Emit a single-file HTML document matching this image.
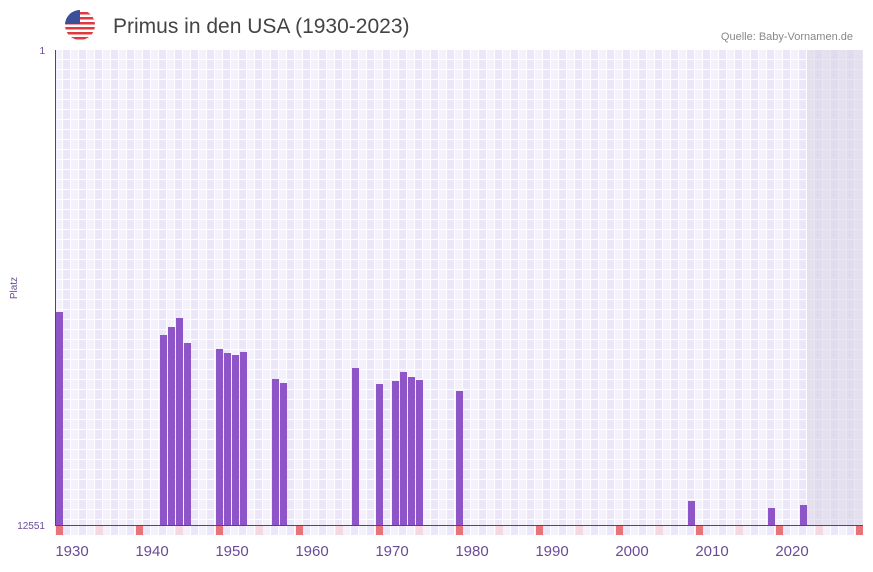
<!DOCTYPE html><html><head><style>body{margin:0;background:#fff;font-family:"Liberation Sans",sans-serif}</style></head><body>
<svg width="873" height="567" xmlns="http://www.w3.org/2000/svg">
<defs>
<pattern id="g" x="55" y="50" width="16" height="10" patternUnits="userSpaceOnUse">
<rect width="8" height="10" fill="#f4f1fc"/><rect x="8" width="8" height="10" fill="#ece7f8"/>
<rect x="7" width="1" height="10" fill="#fff"/><rect x="15" width="1" height="10" fill="#fff"/><rect y="9" width="16" height="1" fill="#fff"/>
</pattern>
<pattern id="r" x="55" y="526" width="16" height="10" patternUnits="userSpaceOnUse">
<rect width="8" height="10" fill="#f4f1fc"/><rect x="8" width="8" height="10" fill="#ece7f8"/>
<rect x="7" width="1" height="10" fill="#fff"/><rect x="15" width="1" height="10" fill="#fff"/>
</pattern>
</defs>
<rect x="55" y="50" width="808" height="475" fill="url(#g)"/>
<rect x="807" y="50" width="56" height="475" fill="#d8d2e6" opacity="0.55"/>
<rect x="55" y="526" width="808" height="9" fill="url(#r)"/>
<g fill="#e8737a"><rect x="56" y="526" width="7" height="9"/><rect x="136" y="526" width="7" height="9"/><rect x="216" y="526" width="7" height="9"/><rect x="296" y="526" width="7" height="9"/><rect x="376" y="526" width="7" height="9"/><rect x="456" y="526" width="7" height="9"/><rect x="536" y="526" width="7" height="9"/><rect x="616" y="526" width="7" height="9"/><rect x="696" y="526" width="7" height="9"/><rect x="776" y="526" width="7" height="9"/><rect x="856" y="526" width="7" height="9"/></g>
<g fill="#f5d8e0"><rect x="96" y="526" width="7" height="9"/><rect x="176" y="526" width="7" height="9"/><rect x="256" y="526" width="7" height="9"/><rect x="336" y="526" width="7" height="9"/><rect x="416" y="526" width="7" height="9"/><rect x="496" y="526" width="7" height="9"/><rect x="576" y="526" width="7" height="9"/><rect x="656" y="526" width="7" height="9"/><rect x="736" y="526" width="7" height="9"/><rect x="816" y="526" width="7" height="9"/></g>
<g fill="#8e55c8">
<rect x="55" y="312" width="8" height="213"/>
<rect x="160" y="335" width="7" height="190"/><rect x="168" y="327" width="7" height="198"/><rect x="176" y="318" width="7" height="207"/><rect x="184" y="343" width="7" height="182"/>
<rect x="216" y="349" width="7" height="176"/><rect x="224" y="353" width="7" height="172"/><rect x="232" y="355" width="7" height="170"/><rect x="240" y="352" width="7" height="173"/>
<rect x="272" y="379" width="7" height="146"/><rect x="280" y="383" width="7" height="142"/>
<rect x="352" y="368" width="7" height="157"/><rect x="376" y="384" width="7" height="141"/>
<rect x="392" y="381" width="7" height="144"/><rect x="400" y="372" width="7" height="153"/><rect x="408" y="377" width="7" height="148"/><rect x="416" y="380" width="7" height="145"/>
<rect x="456" y="391" width="7" height="134"/>
<rect x="688" y="501" width="7" height="24"/><rect x="768" y="508" width="7" height="17"/><rect x="800" y="505" width="7" height="20"/>
</g>
<rect x="55" y="50" width="1" height="476" fill="#5a3a9a"/>
<rect x="55" y="525" width="808" height="1" fill="#5a3a9a"/>
<g font-size="10" fill="#6a4a9a" text-anchor="end"><text x="45" y="54">1</text><text x="45" y="529">12551</text></g>
<text x="17" y="288" font-size="10" fill="#6a4a9a" transform="rotate(-90 17 288)" text-anchor="middle">Platz</text>
<g font-size="15" fill="#6a4a9a" text-anchor="middle"><text x="72" y="556">1930</text><text x="152" y="556">1940</text><text x="232" y="556">1950</text><text x="312" y="556">1960</text><text x="392" y="556">1970</text><text x="472" y="556">1980</text><text x="552" y="556">1990</text><text x="632" y="556">2000</text><text x="712" y="556">2010</text><text x="792" y="556">2020</text></g>
<text x="113" y="33" font-size="21" fill="#444">Primus in den USA (1930-2023)</text>
<text x="853" y="40" font-size="11" fill="#888" text-anchor="end">Quelle: Baby-Vornamen.de</text>
<clipPath id="c"><circle cx="80" cy="25" r="15"/></clipPath>
<g clip-path="url(#c)"><rect x="65" y="10" width="30" height="30" fill="#fff"/>
<g fill="#e0393e"><rect x="65" y="12" width="30" height="2.5"/><rect x="65" y="17" width="30" height="2.5"/><rect x="65" y="22" width="30" height="2.5"/><rect x="65" y="27" width="30" height="2.5"/><rect x="65" y="32" width="30" height="2.5"/><rect x="65" y="37" width="30" height="2.5"/></g>
<rect x="65" y="10" width="15" height="14" fill="#3c4f9a"/></g>
</svg></body></html>
